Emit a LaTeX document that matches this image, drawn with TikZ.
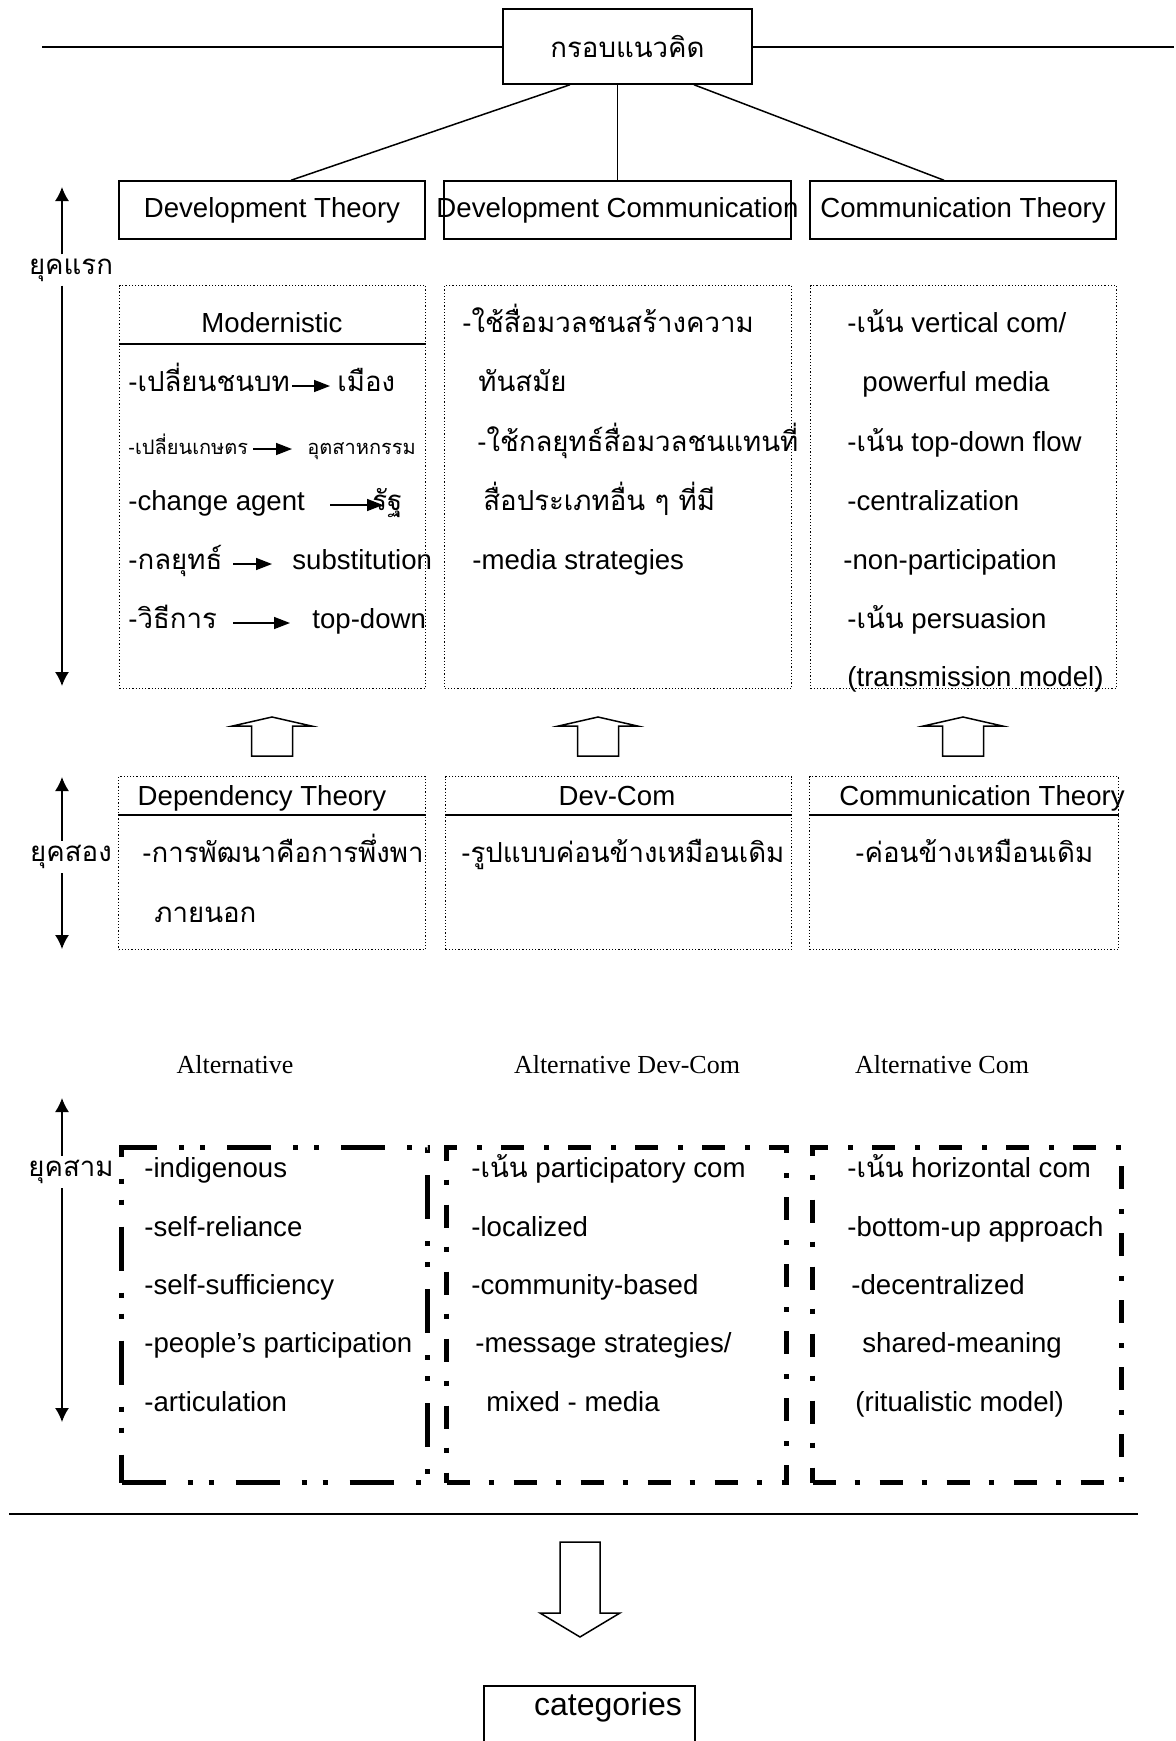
\documentclass[tikz,border=0pt]{standalone}
\usepackage{fontspec}
\setmainfont{Liberation Sans}
\newfontfamily\thaifont[Script=Thai]{Loma}
\newfontfamily\altfont{Liberation Serif}
\newcommand{\thai}[1]{{\thaifont #1}}
\usetikzlibrary{arrows.meta,positioning,calc}

\begin{document}
\begin{tikzpicture}[x=0.5pt, y=-0.5pt,
    hbox/.style={draw, line width=0.75pt, minimum height=29pt, inner sep=0pt, font=\fontsize{13.8}{16}\selectfont},
    dbox/.style={draw, densely dotted, line width=0.6pt, anchor=north west, inner sep=0pt},
    abox/.style={draw, line width=2.6pt, dash pattern=on 11.5pt off 9.5pt on 2.5pt off 10pt, anchor=north west, inner sep=0pt},
    txt/.style={anchor=mid west, inner sep=0pt, yshift=-2pt, font=\fontsize{13.8}{16}\selectfont},
    small/.style={anchor=mid west, inner sep=0pt, yshift=-2pt, font=\fontsize{10}{12}\selectfont},
    ttl/.style={anchor=mid, inner sep=0pt, yshift=-2pt, font=\fontsize{13.8}{16}\selectfont},
    era/.style={inner sep=2pt, yshift=-2pt, font=\fontsize{13.8}{16}\selectfont},
    alt/.style={anchor=mid, inner sep=0pt, yshift=-2pt, font=\altfont\fontsize{13}{15}\selectfont},
    arr/.style={-{Triangle[length=8pt,width=6pt]}, line width=0.75pt},
    eraarr/.style={-{Latex[length=7pt,width=7pt]}, line width=0.75pt},
    hollow/.style={draw, line width=0.75pt, fill=white}]

\useasboundingbox (0,0) rectangle (1176,1741);

% top frame
\node[hbox, minimum width=124.5pt, minimum height=37.5pt] (frame) at (627.5,46.5) {\thai{กรอบแนวคิด}};
\coordinate (rulel) at (42,47);
\coordinate (ruler) at (1174,47);
\draw[line width=0.75pt] (rulel) -- (rulel -| frame.west);
\draw[line width=0.75pt] (ruler -| frame.east) -- (ruler);

% theory headers
\node[hbox, minimum width=153pt] (devth) at (272,210) {Development Theory};
\node[hbox, minimum width=173.5pt] (devcom) at (617.5,210) {\makebox[0pt]{Development Communication}};
\node[hbox, minimum width=153pt] (comth) at (963,210) {Communication Theory};
\draw[line width=0.75pt] ([xshift=-28.75pt]frame.south) -- ([xshift=9.5pt]devth.north);
\draw[line width=0.5pt] (frame.south -| devcom.north) -- (devcom.north);
\draw[line width=0.75pt] ([xshift=33.25pt]frame.south) -- ([xshift=-9.5pt]comth.north);

% first era
\node[dbox, minimum width=153pt, minimum height=201.5pt] (mod) at (119,285) {};
\node[dbox, minimum width=173.5pt, minimum height=201.5pt] (mass) at (444,285) {};
\node[dbox, minimum width=153pt, minimum height=201.5pt] (vert) at (810,285) {};
\node[ttl] (modt) at (272,323) {Modernistic};
\draw[line width=0.75pt] ([yshift=-29.5pt]mod.north west) -- ([yshift=-29.5pt]mod.north east);

\node[txt] (mod1a) at (128,382) {-\thai{เปลี่ยนชนบท}};
\node[txt] (mod1b) at (337,382) {\thai{เมือง}};
\node[small] (mod2a) at (128,445) {-\thai{เปลี่ยนเกษตร}};
\node[small] (mod2b) at (307,445) {\thai{อุตสาหกรรม}};
\node[txt] (mod3a) at (128,501) {-change agent};
\node[txt] (mod3b) at (372,501) {\thai{รัฐ}};
\node[txt] (mod4a) at (128,560) {-\thai{กลยุทธ์}};
\node[txt] (mod4b) at (292,560) {substitution};
\node[txt] (mod5a) at (128,619) {-\thai{วิธีการ}};
\node[txt] (mod5b) at (312,619) {top-down};
\draw[arr] ([xshift=-22.5pt]mod1b.mid west) -- ([xshift=-3.5pt]mod1b.mid west);
\draw[arr] ([xshift=-27pt]mod2b.mid west) -- ([xshift=-7.5pt]mod2b.mid west);
\draw[arr] ([xshift=-21pt]mod3b.mid west) -- ([xshift=5.5pt]mod3b.mid west);
\draw[arr] ([xshift=-29.5pt]mod4b.mid west) -- ([xshift=-10pt]mod4b.mid west);
\draw[arr] ([xshift=-39.5pt]mod5b.mid west) -- ([xshift=-11pt]mod5b.mid west);

\node[txt] (mass1) at (462,323) {-\thai{ใช้สื่อมวลชนสร้างความ}};
\node[txt] (mass2) at (478,382) {\thai{ทันสมัย}};
\node[txt] (mass3) at (477,442) {-\thai{ใช้กลยุทธ์สื่อมวลชนแทนที่}};
\node[txt] (mass4) at (483,501) {\thai{สื่อประเภทอื่น ๆ ที่มี}};
\node[txt] (mass5) at (472,560) {-media strategies};

\node[txt] (vert1) at (847,323) {-\thai{เน้น} vertical com/};
\node[txt] (vert2) at (862,382) {powerful media};
\node[txt] (vert3) at (847,442) {-\thai{เน้น} top-down flow};
\node[txt] (vert4) at (847,501) {-centralization};
\node[txt] (vert5) at (843,560) {-non-participation};
\node[txt] (vert6) at (847,619) {-\thai{เน้น} persuasion};
\node[txt] (vert7) at (847,677) {(transmission model)};

\node[era] (era1) at (71,266) {\thai{ยุคแรก}};
\coordinate (era1top) at (62,187);
\coordinate (era1bot) at (62,686);
\draw[eraarr] (era1.north -| era1top) -- (era1top);
\draw[eraarr] (era1.south -| era1top) -- (era1bot);

% hollow arrows between eras
\draw[hollow] (251.5,756) -- ++(0,-30) -- ++(-19,0) -- ++(39.5,-9) -- ++(39.5,9) -- ++(-19,0) -- ++(0,30) -- cycle;
\draw[hollow] (577.5,756) -- ++(0,-30) -- ++(-19,0) -- ++(39.5,-9) -- ++(39.5,9) -- ++(-19,0) -- ++(0,30) -- cycle;
\draw[hollow] (942.5,756) -- ++(0,-30) -- ++(-19,0) -- ++(39.5,-9) -- ++(39.5,9) -- ++(-19,0) -- ++(0,30) -- cycle;

% second era
\node[dbox, minimum width=153.5pt, minimum height=86.5pt] (dep) at (118,776) {};
\node[dbox, minimum width=173pt, minimum height=86.5pt] (dc) at (445,776) {};
\node[dbox, minimum width=154.5pt, minimum height=86.5pt] (ct) at (809,776) {};
\draw[line width=0.75pt] ([yshift=-19.5pt]dep.north west) -- ([yshift=-19.5pt]dep.north east);
\draw[line width=0.75pt] ([yshift=-19.5pt]dc.north west) -- ([yshift=-19.5pt]dc.north east);
\draw[line width=0.75pt] ([yshift=-19.5pt]ct.north west) -- ([yshift=-19.5pt]ct.north east);
\node[ttl] (dept) at (262,796) {Dependency Theory};
\node[ttl] (dct) at (617,796) {Dev-Com};
\node[ttl] (ctt) at (982,796) {Communication Theory};
\node[txt] (dep1) at (142,853) {-\thai{การพัฒนาคือการพึ่งพา}};
\node[txt] (dep2) at (154,913) {\thai{ภายนอก}};
\node[txt] (dc1) at (461,853) {-\thai{รูปแบบค่อนข้างเหมือนเดิม}};
\node[txt] (ct1) at (855,853) {-\thai{ค่อนข้างเหมือนเดิม}};

\node[era] (era2) at (71,853) {\thai{ยุคสอง}};
\coordinate (era2top) at (62,777);
\coordinate (era2bot) at (62,949);
\draw[eraarr] (era2.north -| era2top) -- (era2top);
\draw[eraarr] (era2.south -| era2top) -- (era2bot);

% alternatives
\node[alt] (alt1) at (235,1064) {Alternative};
\node[alt] (alt2) at (627,1064) {Alternative Dev-Com};
\node[alt] (alt3) at (942,1064) {Alternative Com};

% third era
\node[abox, dash pattern=on 22pt off 11pt on 2.5pt off 8pt on 2.5pt off 11pt, minimum width=153pt, minimum height=167.5pt] (indig) at (119,1145) {};
\node[abox, minimum width=170pt, minimum height=167.5pt] (part) at (444,1145) {};
\node[abox, minimum width=154.5pt, minimum height=167.5pt] (horiz) at (810,1145) {};

\node[txt] (ind1) at (144,1168) {-indigenous};
\node[txt] (ind2) at (144,1227) {-self-reliance};
\node[txt] (ind3) at (144,1285) {-self-sufficiency};
\node[txt] (ind4) at (144,1343) {-people’s participation};
\node[txt] (ind5) at (144,1402) {-articulation};

\node[txt] (part1) at (471,1168) {-\thai{เน้น} participatory com};
\node[txt] (part2) at (471,1227) {-localized};
\node[txt] (part3) at (471,1285) {-community-based};
\node[txt] (part4) at (475,1343) {-message strategies/};
\node[txt] (part5) at (486,1402) {mixed - media};

\node[txt] (hor1) at (847,1168) {-\thai{เน้น} horizontal com};
\node[txt] (hor2) at (847,1227) {-bottom-up approach};
\node[txt] (hor3) at (851,1285) {-decentralized};
\node[txt] (hor4) at (862,1343) {shared-meaning};
\node[txt] (hor5) at (855,1402) {(ritualistic model)};

\node[era] (era3) at (71,1168) {\thai{ยุคสาม}};
\coordinate (era3top) at (62,1098);
\coordinate (era3bot) at (62,1422);
\draw[eraarr] (era3.north -| era3top) -- (era3top);
\draw[eraarr] (era3.south -| era3top) -- (era3bot);

% result
\coordinate (basel) at (9,1514);
\coordinate (baser) at (1138,1514);
\draw[line width=0.75pt] (basel) -- (baser);
\draw[hollow] (560,1542) -- ++(0,71) -- ++(-20,0) -- ++(40,24) -- ++(40,-24) -- ++(-20,0) -- ++(0,-71) -- cycle;
\node[draw, line width=0.75pt, anchor=north west, minimum width=105.5pt, minimum height=45pt, inner sep=0pt] (catbox) at (483,1685) {};
\node[ttl, font=\fontsize{16}{18}\selectfont] (cat) at (608,1706) {categories};
\end{tikzpicture}
\end{document}
